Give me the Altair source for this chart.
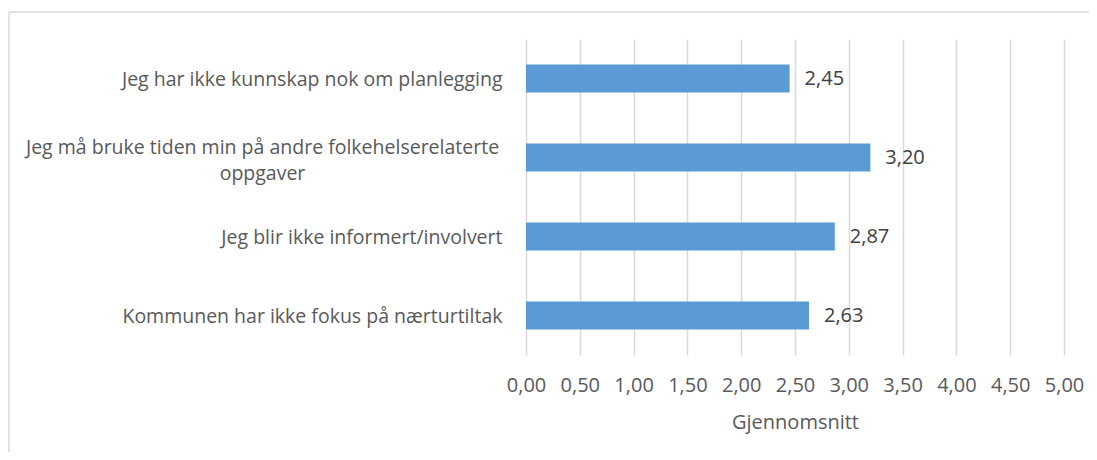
import altair as alt
import pandas as pd

categories = [
    "Jeg har ikke kunnskap nok om planlegging",
    "Jeg må bruke tiden min på andre folkehelserelaterte oppgaver",
    "Jeg blir ikke informert/involvert",
    "Kommunen har ikke fokus på nærturtiltak",
]
values = [2.45, 3.20, 2.87, 2.63]
x_ticks = [0, 0.5, 1.0, 1.5, 2.0, 2.5, 3.0, 3.5, 4.0, 4.5, 5.0]
long_label = categories[1]
long_label_lines = ["Jeg må bruke tiden min på andre folkehelserelaterte", "oppgaver"]

df = pd.DataFrame({"kategori": categories, "verdi": values})

FONT = "Open Sans"
GRAY = "#595959"

label_expr = (
    f"datum.value == '{long_label}' ? "
    f"['{long_label_lines[0]}', '{long_label_lines[1]}'] : datum.value"
)
is_long = f"datum.value == '{long_label}'"

y_enc = alt.Y(
    "kategori:N",
    sort=categories,
    scale=alt.Scale(paddingInner=0, paddingOuter=0),
    axis=alt.Axis(
        title=None,
        domain=False,
        ticks=False,
        tickSize=0,
        labelExpr=label_expr,
        labelAlign={"condition": {"test": is_long, "value": "center"}, "value": "right"},
        labelPadding={"condition": {"test": is_long, "value": 264}, "value": 24},
        labelOffset={"condition": {"test": is_long, "value": -10}, "value": 1},
        labelLineHeight=26,
        labelLimit=1000,
        labelFont=FONT,
        labelFontSize=19.5,
        labelColor=GRAY,
    ),
)

x_enc = alt.X(
    "verdi:Q",
    scale=alt.Scale(domain=[0, 5], nice=False),
    axis=alt.Axis(
        title="Gjennomsnitt",
        values=x_ticks,
        labelExpr="replace(format(datum.value, '.2f'), '.', ',')",
        labelOverlap=False,
        labelFlush=False,
        domain=False,
        ticks=False,
        tickSize=0,
        grid=True,
        gridColor="#d9d9d9",
        gridWidth=1.5,
        labelPadding=20,
        labelFont=FONT,
        labelFontSize=20,
        labelColor=GRAY,
        titleFont=FONT,
        titleFontSize=20,
        titleFontWeight="normal",
        titleColor=GRAY,
        titlePadding=17,
    ),
)

base = alt.Chart(df)

bars = base.mark_bar(color="#5B9BD5", size=28).encode(x=x_enc, y=y_enc)

text = base.transform_calculate(
    lbl="replace(format(datum.verdi, '.2f'), '.', ',')"
).mark_text(
    align="left", baseline="middle", dx=15, font=FONT, fontSize=20, color="#404040"
).encode(x="verdi:Q", y=alt.Y("kategori:N", sort=categories), text="lbl:N")

frame = pd.DataFrame({"a": [0]})
border_top = alt.Chart(frame).mark_rule(color="#d9d9d9", strokeWidth=1.5).encode(
    x=alt.value(-517), x2=alt.value(900), y=alt.value(-27)
)
border_left = alt.Chart(frame).mark_rule(color="#d9d9d9", strokeWidth=1.5).encode(
    x=alt.value(-517), y=alt.value(-27), y2=alt.value(700)
)

chart = alt.layer(border_top, border_left, bars, text).properties(
    width=538,
    height=316,
    autosize=alt.AutoSizeParams(type="none"),
    padding={"left": 518, "top": 31, "right": 25, "bottom": 97},
).configure_view(stroke=None)

chart.save("out.html", embed_options={"renderer": "svg", "actions": False})
